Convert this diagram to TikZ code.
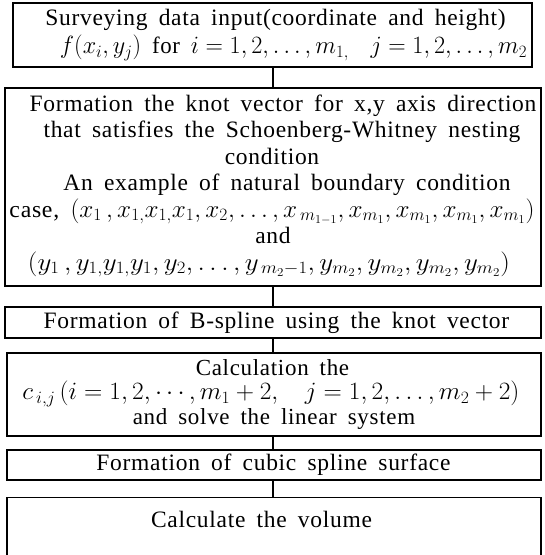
\documentclass[tikz,border=0pt]{standalone}
\usepackage{fontspec}
\setmainfont{Liberation Serif}[LetterSpace=3, WordSpace=1.7]
\usetikzlibrary{calc}
\newcommand{\mline}[2]{\resizebox{#1pt}{\height}{#2}}
\newcommand{\shiftln}[2]{\hspace*{#1pt}#2}
\begin{document}
\begin{tikzpicture}[x=1pt,y=-1pt,
  box/.style={draw, line width=1.2pt, inner sep=0pt, align=center},
  lbl/.style={inner sep=0pt, align=center, font=\fontsize{23.5}{26.5}\selectfont},
  conn/.style={line width=1.2pt}]
\useasboundingbox (0,0) rectangle (545,555);
\begin{scope}
\clip (0,0) rectangle (545,555);
\node[box, minimum width=519, minimum height=64] (b1) at (272.5,35) {};
\node[lbl, font=\fontsize{23.5}{27.5}\selectfont] (t1) at (284,35) {\shiftln{-17}{Surveying data input(coordinate and height)}\\
\shiftln{19}{\mline{467}{$f(x_i, y_j)$ for $i=1,2,\ldots,m_{1,}$\ \ $j=1,2,\ldots,m_2$}}};
\node[box, minimum width=536, minimum height=198] (b2) at (273,187) {};
\begin{scope}
\clip (b2.south west) rectangle (b2.north east);
\node[lbl] (t2) at (277,186) {\shiftln{12}{Formation the knot vector for x,y axis direction}\\
\shiftln{10}{that satisfies the Schoenberg-Whitney nesting}\\
\shiftln{-10}{condition}\\
\shiftln{20}{An example of natural boundary condition}\\
\shiftln{-10}{\mline{525}{case, $(x_1\,, x_{1,}x_{1,}x_1, x_2, \ldots, x_{\,m_{1-1}}, x_{m_1}, x_{m_1}, x_{m_1}, x_{m_1})$}}\\
\shiftln{-8}{and}\\
\shiftln{-16}{\mline{482}{$(y_1\,, y_{1,}y_{1,}y_1, y_2, \ldots, y_{\,m_2-1}, y_{m_2}, y_{m_2}, y_{m_2}, y_{m_2})$}}};
\end{scope}
\node[box, minimum width=536, minimum height=31] (b3) at (273,322.5) {};
\node[lbl] (t3) at (276.5,322.5) {Formation of B-spline using the knot vector};
\node[box, minimum width=534, minimum height=83] (b4) at (274,394.5) {};
\node[lbl, font=\fontsize{23}{24.5}\selectfont] (t4) at (271,394) {\shiftln{3}{Calculation the}\\
\mline{497}{$c_{\,i,j}\,(i=1,2,\cdots,m_1+2,\ \ j=1,2,\ldots,m_2+2)$}\\
\shiftln{6}{and solve the linear system}};
\node[box, minimum width=534, minimum height=30] (b5) at (274,465) {};
\node[lbl] (t5) at (273.5,465) {Formation of cubic spline surface};
\node[box, minimum width=534, minimum height=90, anchor=north] (b6) at (274,497) {};
\node[lbl] (t6) at (261.5,519) {Calculate the volume};
\draw[conn] (273,0 |- b1.south) -- (273,0 |- b2.north);
\draw[conn] (273,0 |- b2.south) -- (273,0 |- b3.north);
\draw[conn] (273,0 |- b3.south) -- (273,0 |- b4.north);
\draw[conn] (273,0 |- b4.south) -- (273,0 |- b5.north);
\draw[conn] (273,0 |- b5.south) -- (273,0 |- b6.north);
\end{scope}
\end{tikzpicture}
\end{document}
